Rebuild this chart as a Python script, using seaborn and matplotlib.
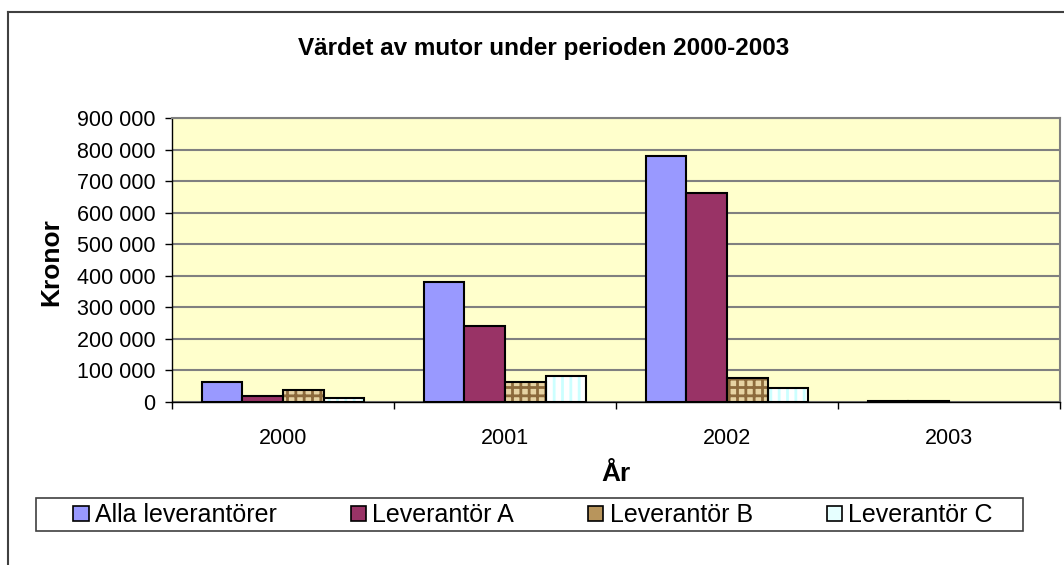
import numpy as np
import pandas as pd
import matplotlib
matplotlib.use("Agg")
import matplotlib.pyplot as plt
import seaborn as sns
from matplotlib.patches import Patch, Rectangle
from matplotlib.lines import Line2D
from matplotlib.ticker import FuncFormatter, FixedLocator

# data (kronor)
years = ["2000", "2001", "2002", "2003"]
series = ["Alla leverantörer", "Leverantör A", "Leverantör B", "Leverantör C"]
alla = [64000, 380000, 781000, 2500]
lev_a = [19000, 242000, 662000, 2000]
lev_b = [38000, 64000, 77000, np.nan]
lev_c = [12000, 83000, 44000, np.nan]

df = pd.DataFrame({
    "År": years * 4,
    "Leverantör": np.repeat(series, len(years)),
    "Kronor": alla + lev_a + lev_b + lev_c,
})

face = {"Alla leverantörer": "#9999FF", "Leverantör A": "#993366",
        "Leverantör B": "#E6D3A3", "Leverantör C": "#FFFFFF"}
hatch = {"Leverantör B": "++", "Leverantör C": "||"}
hatch_col = {"Leverantör B": "#8C6A3C", "Leverantör C": "#CCFFFF"}
legend_face = {"Alla leverantörer": "#9999FF", "Leverantör A": "#993366",
               "Leverantör B": "#B8955C", "Leverantör C": "#E6FFFF"}

plt.rcParams["font.family"] = ["Liberation Sans", "DejaVu Sans"]
plt.rcParams["hatch.linewidth"] = 2.0

fig = plt.figure(figsize=(10.64, 5.65), dpi=100)
ax = fig.add_axes([172 / 1064, 1 - 402 / 565, 888 / 1064, 284 / 565])
ax.set_facecolor("#FFFFCC")

sns.barplot(data=df, x="År", y="Kronor", hue="Leverantör", order=years,
            hue_order=series, palette=face, width=0.73, gap=0,
            edgecolor="black", linewidth=1.5, saturation=1, legend=False,
            ax=ax, zorder=3)

# patterned series: hatch in its own colour, then black outline on top
for name, cont in zip(series, ax.containers):
    if name not in hatch:
        continue
    for bar in cont:
        bar.set_hatch(hatch[name])
        bar.set_edgecolor(hatch_col[name])
        bar.set_linewidth(0)
        ax.add_patch(Rectangle(bar.get_xy(), bar.get_width(), bar.get_height(),
                               fill=False, edgecolor="black", linewidth=1.5,
                               zorder=4))

ax.set_ylim(0, 900000)
ax.set_xlim(-0.5, 3.5)
ax.set_yticks(range(0, 900001, 100000))
ax.yaxis.set_major_formatter(FuncFormatter(lambda v, p: f"{int(v):,}".replace(",", " ")))
ax.grid(axis="y", color="#808080", linewidth=1.5, zorder=1)
ax.set_axisbelow(True)

ax.xaxis.set_minor_locator(FixedLocator([-0.5, 0.5, 1.5, 2.5, 3.5]))
ax.tick_params(axis="x", which="major", length=0, pad=19, labelsize=15.5)
ax.tick_params(axis="x", which="minor", length=5, width=1, color="black")
ax.tick_params(axis="y", length=5, width=1, pad=7, labelsize=15.5)

for s in ["top", "right"]:
    ax.spines[s].set_color("#808080")
    ax.spines[s].set_linewidth(1.5)
for s in ["left", "bottom"]:
    ax.spines[s].set_color("black")
    ax.spines[s].set_linewidth(1)

ax.set_xlabel("")
ax.set_ylabel("")

fig.text(544 / 1064, 1 - 48 / 565, "Värdet av mutor under perioden 2000-2003",
         ha="center", va="center", fontsize=17.5, fontweight="bold")
fig.text(51 / 1064, 1 - 262 / 565, "Kronor", rotation=90, ha="center",
         va="center", fontsize=19, fontweight="bold")
fig.text(616 / 1064, 1 - 474 / 565, "År", ha="center", va="center",
         fontsize=19, fontweight="bold")

# outer chart frame (only left and top edges are visible in the crop)
fig.add_artist(Line2D([8 / 1064, 8 / 1064], [0, 1 - 12 / 565],
                      transform=fig.transFigure, color="#404040", linewidth=1.5))
fig.add_artist(Line2D([8 / 1064, 1], [1 - 12 / 565, 1 - 12 / 565],
                      transform=fig.transFigure, color="#404040", linewidth=1.5))

# legend box
fig.add_artist(Rectangle((36 / 1064, 1 - 531 / 565), 987 / 1064, 33 / 565,
                         transform=fig.transFigure, fill=False,
                         edgecolor="#404040", linewidth=1.2))
handles = [Patch(facecolor=legend_face[n], edgecolor="black", linewidth=1.2)
           for n in series]
fig.legend(handles, series, loc="center", ncol=4,
           bbox_to_anchor=(533 / 1064, 1 - 515 / 565),
           frameon=False, fontsize=18, handlelength=0.62, handleheight=0.55,
           handletextpad=0.25, columnspacing=2.95, borderaxespad=0,
           borderpad=0)

fig.savefig("out.png", dpi=100, facecolor="white")
